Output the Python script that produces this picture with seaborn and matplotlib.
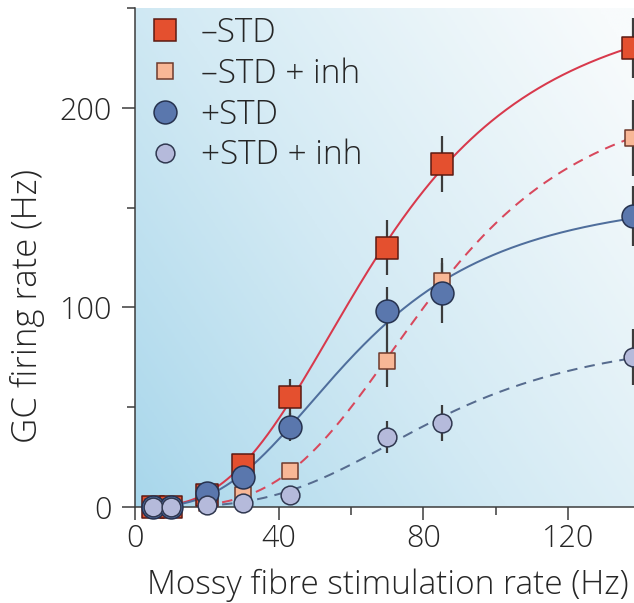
import numpy as np
import pandas as pd
import matplotlib
matplotlib.use("Agg")
import matplotlib.pyplot as plt
from matplotlib.lines import Line2D
from matplotlib.colors import LinearSegmentedColormap
import seaborn as sns

# Mossy fibre stimulation rates (Hz)
rate = [5, 10, 20, 30, 43, 70, 85, 138]

# GC firing rate (Hz), mean and error for each condition
no_std = [0, 0, 6, 21, 55, 130, 172, 230]
no_std_err = [1, 1, 2, 3, 9, 14, 14, 15]
no_std_inh = [0, 0, 2, 6, 18, 73, 113, 185]
no_std_inh_err = [1, 1, 1, 2, 3, 13, 12, 19]
with_std = [0, 0, 7, 15, 40, 98, 107, 146]
with_std_err = [1, 1, 2, 3, 7, 12, 15, 15]
with_std_inh = [0, 0, 1, 2, 6, 35, 42, 75]
with_std_inh_err = [1, 1, 1, 1, 2, 8, 9, 14]

labels = ["\u2013STD", "\u2013STD + inh", "+STD", "+STD + inh"]
x_ticks = [0, 40, 80, 120]
y_ticks = [0, 100, 200]

sns.set_theme(style="ticks")
plt.rcParams["font.family"] = ["Open Sans", "DejaVu Sans"]
plt.rcParams["font.weight"] = "light"
plt.rcParams["axes.labelweight"] = "light"
TXT = "#262626"


def hill(x, ymax, k, n):
    x = np.asarray(x, float)
    return ymax * x ** n / (x ** n + k ** n)


def fit_hill(x, y):
    """Least-squares Hill fit: grid over k and n, closed-form amplitude."""
    x = np.asarray(x, float)
    y = np.asarray(y, float)
    best = None
    for k in np.arange(20, 220, 0.5):
        for n in np.arange(1.0, 6.0, 0.05):
            h = x ** n / (x ** n + k ** n)
            a = (y @ h) / (h @ h)
            r = np.sum((y - a * h) ** 2)
            if best is None or r < best[0]:
                best = (r, a, k, n)
    return best[1:]


fig = plt.figure(figsize=(6.34, 6.03), dpi=100)
W, H = 634, 603
x0_px, y0_px, ytop_px = 135, 507, 8
px_per_x = 3.606
xmax = 150
ax = fig.add_axes([x0_px / W, (H - y0_px) / H,
                   xmax * px_per_x / W, (y0_px - ytop_px) / H])

# soft blue wash fading towards the upper right
vis = (W - x0_px) / (xmax * px_per_x)
u = np.linspace(0, 1, 300)
v = np.linspace(0, 1, 300)
U, V = np.meshgrid(u / vis, v)
t = np.clip(0.62 * U + 0.42 * V, 0, 1) ** 0.9
cmap = LinearSegmentedColormap.from_list("wash", ["#a7d6eb", "#d3eaf4", "#f8fbfc"])
ax.imshow(t, extent=[0, 1, 0, 1], transform=ax.transAxes, origin="lower",
          cmap=cmap, vmin=0, vmax=1, aspect="auto", zorder=0,
          interpolation="bilinear")

dash = (0, (5.2, 3.6))
series = [
    dict(y=no_std, e=no_std_err, m="s", fc="#e4502f", ec="#5c1a12", ms=15.5,
         lc="#d8394c", ls="-", start=5),
    dict(y=no_std_inh, e=no_std_inh_err, m="s", fc="#f8b796", ec="#6e3a2c", ms=12,
         lc="#d8485c", ls=dash, start=24),
    dict(y=with_std, e=with_std_err, m="o", fc="#5a77ad", ec="#26324f", ms=16.5,
         lc="#4f6e9c", ls="-", start=5),
    dict(y=with_std_inh, e=with_std_inh_err, m="o", fc="#b5badb", ec="#303850", ms=13.5,
         lc="#566b8e", ls=dash, start=24),
]

xs_all = np.linspace(1, xmax, 400)
for s in series:
    a, k, n = fit_hill(rate, s["y"])
    xs = xs_all[xs_all >= s["start"]]
    sns.lineplot(x=xs, y=hill(xs, a, k, n), ax=ax, color=s["lc"], lw=1.45,
                 linestyle=s["ls"], zorder=2, estimator=None, sort=False)
    ax.errorbar(rate, s["y"], yerr=s["e"], fmt="none", ecolor="#3c3c3c",
                elinewidth=1.6, capsize=0, zorder=3)

for i, s in enumerate(series):
    df = pd.DataFrame({"rate": rate, "gc": s["y"]})
    sns.scatterplot(data=df, x="rate", y="gc", ax=ax, marker=s["m"],
                    s=s["ms"] ** 2, color=s["fc"], edgecolor=s["ec"],
                    linewidth=1.1, zorder=4 + i, legend=False, clip_on=False)

handles = [Line2D([], [], linestyle="none", marker=s["m"], markersize=s["ms"],
                  markerfacecolor=s["fc"], markeredgecolor=s["ec"],
                  markeredgewidth=1.1) for s in series]
leg = ax.legend(handles, labels, loc="upper left", bbox_to_anchor=(0.0, 1.01),
                frameon=False, fontsize=24, handlelength=0.99, handletextpad=0.58,
                labelspacing=0.22, borderaxespad=0)
for txt in leg.get_texts():
    txt.set_color(TXT)

ax.set_xlim(0, xmax)
ax.set_ylim(0, 250)
ax.set_xticks(x_ticks)
ax.set_xticks([20, 60, 100, 140], minor=True)
ax.set_yticks(y_ticks)
ax.set_yticks([50, 150, 250], minor=True)
ax.tick_params(axis="both", which="major", direction="out", length=9.5, width=1.1,
               color="#3c3c3c", labelsize=22, labelcolor=TXT, pad=7)
ax.tick_params(axis="x", which="major", pad=2)
ax.tick_params(axis="both", which="minor", direction="out", length=5.5, width=1.1,
               color="#3c3c3c")
sns.despine(ax=ax)
for side in ("left", "bottom"):
    ax.spines[side].set_color("#3c3c3c")
    ax.spines[side].set_linewidth(1.1)

ax.set_xlabel("Mossy fibre stimulation rate (Hz)", fontsize=24, color=TXT)
ax.set_ylabel("GC firing rate (Hz)", fontsize=25, color=TXT)
ax.xaxis.set_label_coords((388 - x0_px) / (xmax * px_per_x), (y0_px - 585) / (y0_px - ytop_px))
ax.xaxis.label.set_va("center")
ax.yaxis.set_label_coords((28 - x0_px) / (xmax * px_per_x), (y0_px - 306) / (y0_px - ytop_px))
ax.yaxis.label.set_va("center")

fig.savefig("out.png", dpi=100)
